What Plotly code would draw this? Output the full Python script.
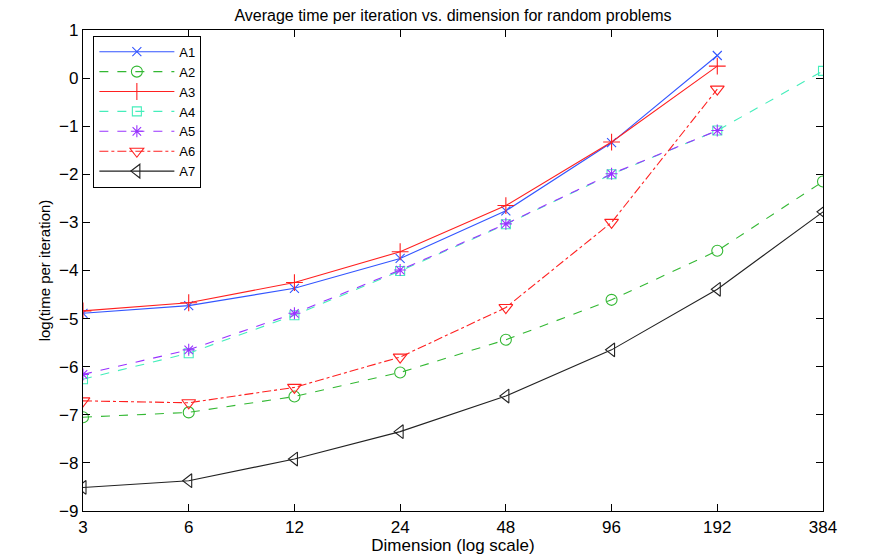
import math
import plotly.graph_objects as go

dims = [3, 6, 12, 24, 48, 96, 192, 384]
tick_labels = ["3", "6", "12", "24", "48", "96", "192", "384"]

a1 = [-4.89, -4.73, -4.37, -3.75, -2.76, -1.34, 0.47]
a2 = [-7.05, -6.95, -6.62, -6.12, -5.44, -4.61, -3.59, -2.15]
a3 = [-4.84, -4.67, -4.25, -3.61, -2.65, -1.33, 0.25]
a4 = [-6.26, -5.72, -4.93, -4.01, -3.04, -2.0, -1.09, 0.15]
a5 = [-6.16, -5.65, -4.89, -3.99, -3.03, -1.99, -1.09]
a6 = [-6.71, -6.75, -6.43, -5.80, -4.77, -3.0, -0.23]
a7 = [-8.51, -8.37, -7.92, -7.35, -6.61, -5.65, -4.39, -2.78]

series = [
    ("A1", a1, "#3355ff", "solid", "x-thin-open", 9),
    ("A2", a2, "#33b833", "dash", "circle-open", 11),
    ("A3", a3, "#ff2020", "solid", "cross-thin-open", 12),
    ("A4", a4, "#44eebb", "dash", "square-open", 9),
    ("A5", a5, "#9933ff", "dash", "asterisk-open", 10),
    ("A6", a6, "#ff2020", "dashdot", "triangle-down-open", 12),
    ("A7", a7, "#222222", "solid", "triangle-left-open", 12),
]

FONT = "Liberation Sans, Arial, Helvetica"

fig = go.Figure()
for name, vals, color, dash, sym, size in series:
    fig.add_trace(go.Scatter(
        x=dims[:len(vals)], y=vals, name=name, mode="lines+markers",
        line=dict(color=color, dash=dash, width=1.1),
        marker=dict(symbol=sym, size=size, color=color, line=dict(color=color, width=1.1)),
    ))

axis_common = dict(
    showline=True, linecolor="black", linewidth=1.2, mirror="ticks",
    ticks="inside", ticklen=7, tickcolor="black", showgrid=False, zeroline=False,
    tickfont=dict(family=FONT, size=17, color="black"),
)

fig.update_layout(
    width=872, height=556,
    margin=dict(l=75, r=57, t=22, b=53),
    paper_bgcolor="white", plot_bgcolor="white",
    title=dict(text="Average time per iteration vs. dimension for random problems",
               x=0.5, xref="paper", xanchor="center", y=0.996, yanchor="top",
               font=dict(family=FONT, size=16, color="black")),
    xaxis=dict(type="log", range=[math.log10(3), math.log10(384)],
               tickvals=dims, ticktext=tick_labels,
               title=dict(text="Dimension (log scale)", standoff=2,
                          font=dict(family=FONT, size=17, color="black")),
               **axis_common),
    yaxis=dict(range=[-9, 1], tickvals=list(range(-9, 2)), ticktext=[str(v).replace("-", "−") for v in range(-9, 2)],
               title=dict(text="log(time per iteration)", standoff=4,
                          font=dict(family=FONT, size=15, color="black")),
               **axis_common),
    legend=dict(x=0.014, y=0.988, xanchor="left", yanchor="top",
                bgcolor="white", bordercolor="black", borderwidth=1,
                font=dict(family=FONT, size=13, color="black"),
                tracegroupgap=0, itemwidth=75),
    showlegend=True,
)

fig.write_html("out.html")
